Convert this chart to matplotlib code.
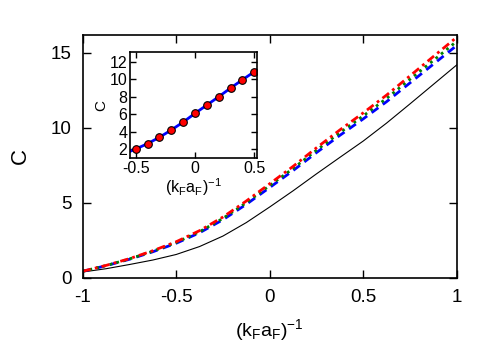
import matplotlib
matplotlib.use("Agg")
import matplotlib.pyplot as plt

plt.rcParams['font.family'] = ['Liberation Sans', 'DejaVu Sans']
plt.rcParams['mathtext.fontset'] = 'custom'
plt.rcParams['mathtext.rm'] = 'Liberation Sans'
plt.rcParams['mathtext.it'] = 'Liberation Sans'

# main panel curves, C vs (k_F a_F)^-1
x = [-1, -0.875, -0.75, -0.625, -0.5, -0.375, -0.25, -0.125, 0,
     0.125, 0.25, 0.375, 0.5, 0.625, 0.75, 0.875, 1]
c_black = [0.38, 0.6, 0.88, 1.18, 1.55, 2.08, 2.78, 3.68, 4.72,
           5.8, 6.93, 8.03, 9.12, 10.32, 11.6, 12.9, 14.2]
c_blue = [0.43, 0.8, 1.23, 1.73, 2.3, 3.0, 3.87, 4.9, 6.02,
          7.15, 8.35, 9.5, 10.6, 11.75, 13.0, 14.25, 15.5]
c_green = [0.43, 0.81, 1.25, 1.77, 2.35, 3.07, 3.96, 5.01, 6.15,
           7.29, 8.51, 9.68, 10.8, 11.97, 13.24, 14.5, 15.78]
c_red = [0.43, 0.82, 1.27, 1.8, 2.4, 3.14, 4.05, 5.12, 6.27,
         7.43, 8.67, 9.86, 11.0, 12.19, 13.47, 14.76, 16.05]

# inset: line and points
xi_line = [-0.55, -0.5, -0.4, -0.3, -0.2, -0.1, 0, 0.1, 0.2, 0.3, 0.4, 0.5, 0.52]
ci_line = [1.75, 2.03, 2.64, 3.37, 4.2, 5.1, 6.1, 7.05, 8.0, 8.99, 9.94, 10.85, 11.05]
xi_pts = [-0.5, -0.4, -0.3, -0.2, -0.1, 0, 0.1, 0.2, 0.3, 0.4, 0.5]
ci_pts = [2.03, 2.64, 3.37, 4.2, 5.1, 6.1, 7.05, 8.0, 8.99, 9.94, 10.85]

xlab = r'$(\mathrm{k_F a_F})^{-1}$'

fig = plt.figure(figsize=(5.01, 3.51), dpi=100)
ax = fig.add_axes([82.7/501, 1 - 277.7/351, (456.7-82.7)/501, (277.7-35)/351])

ax.plot(x, c_black, color='black', lw=0.8)
ax.plot(x, c_blue, color='blue', lw=2, ls=(0, (3, 2)))
ax.plot(x, c_green, color='green', lw=2, ls=(0, (1, 1.5)))
ax.plot(x, c_red, color='red', lw=2, ls=(0, (3, 1.5, 1, 1.5)))

ax.set_xlim(-1, 1)
ax.set_ylim(0, 16.2)
ax.set_xticks([-1, -0.5, 0, 0.5, 1])
ax.set_xticklabels(['-1', '-0.5', '0', '0.5', '1'])
ax.set_yticks([0, 5, 10, 15])
ax.tick_params(direction='in', top=True, right=True, length=6, width=1,
               labelsize=13.5, pad=8)
for s in ax.spines.values():
    s.set_linewidth(1.2)
ax.set_xlabel(xlab, fontsize=14, labelpad=8)
ax.set_ylabel('C', fontsize=16, labelpad=14)

# inset
ins = fig.add_axes([130/501, 1 - 158.3/351, (256.7-130)/501, (158.3-52.3)/351])
ins.plot(xi_line, ci_line, color='blue', lw=2)
ins.plot(xi_pts, ci_pts, 'o', color='red', mec='black', mew=0.8, ms=5.5)
ins.set_xlim(-0.548, 0.52)
ins.set_ylim(0.97, 13.07)
ins.set_xticks([-0.5, 0, 0.5])
ins.set_xticklabels(['-0.5', '0', '0.5'])
ins.set_yticks([2, 4, 6, 8, 10, 12])
ins.tick_params(direction='in', top=True, right=True, length=4, width=1,
                labelsize=11.5, pad=2)
for s in ins.spines.values():
    s.set_linewidth(1.2)
ins.set_xlabel(xlab, fontsize=11.5, labelpad=0)
ins.set_ylabel('C', fontsize=11, labelpad=1)

fig.savefig('out.png', dpi=100)
